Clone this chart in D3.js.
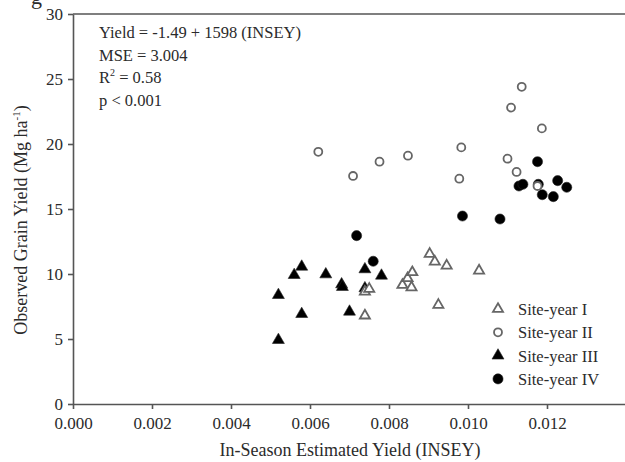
<!DOCTYPE html>
<html>
<head>
<meta charset="utf-8">
<script src="https://cdn.jsdelivr.net/npm/d3@7"></script>
<style>
  body { margin: 0; background: #fff; }
  svg text { font-family: "Liberation Serif", "Times New Roman", serif; fill: #2b2b2b; }
</style>
</head>
<body>
<div id="chart"></div>
<script>
const width = 625
const height = 462

// Site-year I (open triangles)
const site1X = [0.00739, 0.00750, 0.00739, 0.00834, 0.00847, 0.00859, 0.00857, 0.00903, 0.00916, 0.00946, 0.01028, 0.00925]
const site1Y = [8.64, 8.85, 6.80, 9.15, 9.67, 10.13, 8.97, 11.54, 10.95, 10.64, 10.26, 7.62]
// Site-year II (open circles)
const site2X = [0.00621, 0.00709, 0.00776, 0.00848, 0.00983, 0.00978, 0.01136, 0.01109, 0.01187, 0.01100, 0.01123, 0.01176]
const site2Y = [19.40, 17.54, 18.64, 19.10, 19.74, 17.33, 24.40, 22.80, 21.20, 18.87, 17.85, 16.77]
// Site-year III (filled triangles)
const site3X = [0.00579, 0.00560, 0.00640, 0.00680, 0.00682, 0.00739, 0.00781, 0.00739, 0.00520, 0.00579, 0.00700, 0.00520]
const site3Y = [10.56, 9.92, 9.97, 9.20, 9.00, 10.36, 9.87, 8.90, 8.38, 6.92, 7.10, 4.92]
// Site-year IV (filled circles)
const site4X = [0.00718, 0.00760, 0.00986, 0.01081, 0.01176, 0.01129, 0.01139, 0.01178, 0.01188, 0.01216, 0.01227, 0.01250]
const site4Y = [12.95, 10.98, 14.46, 14.23, 18.64, 16.77, 16.90, 16.90, 16.10, 15.95, 17.18, 16.67]

const xTicks = [0, 0.002, 0.004, 0.006, 0.008, 0.010, 0.012]
const yTicks = [0, 5, 10, 15, 20, 25, 30]
const legendLabels = ['Site-year I', 'Site-year II', 'Site-year III', 'Site-year IV']
const statLines = ['Yield = -1.49 + 1598 (INSEY)', 'MSE = 3.004', 'R2 = 0.58', 'p < 0.001']

const x = d3.scaleLinear().domain([0, 0.014]).range([73, 626])
const y = d3.scaleLinear().domain([0, 30]).range([404, 14])

const svg = d3.select('#chart').append('svg')
  .attr('width', width)
  .attr('height', height)

// fragment of the caption cut off above the figure
svg.append('text').attr('x', 31).attr('y', 4).style('font-size', '22px').text('g')

const axisColor = '#555'

const gx = svg.append('g')
  .attr('transform', `translate(0,${y(0)})`)
  .call(d3.axisBottom(x).tickValues(xTicks).tickFormat(d3.format('.3f')).tickSize(5).tickSizeOuter(0))
const gy = svg.append('g')
  .attr('transform', `translate(${x(0)},0)`)
  .call(d3.axisLeft(y).tickValues(yTicks).tickSize(5).tickSizeOuter(0))

for (const g of [gx, gy]) {
  g.selectAll('path, line').attr('stroke', axisColor).attr('stroke-width', 1.6)
  g.selectAll('text').style('font-size', '17px').attr('fill', '#2b2b2b')
}
gx.selectAll('text').attr('dy', null).attr('y', 25)
gy.selectAll('text').attr('x', -10).attr('dy', '0.35em')

// top frame line
svg.append('line')
  .attr('x1', x(0)).attr('x2', x(0.014))
  .attr('y1', y(30)).attr('y2', y(30))
  .attr('stroke', axisColor).attr('stroke-width', 1.6)

// axis titles
svg.append('text')
  .attr('x', 350).attr('y', 456)
  .attr('text-anchor', 'middle')
  .style('font-size', '18px')
  .text('In-Season Estimated Yield (INSEY)')

const yt = svg.append('text')
  .attr('transform', 'translate(27,220) rotate(-90)')
  .attr('text-anchor', 'middle')
  .style('font-size', '18px')
yt.append('tspan').text('Observed Grain Yield (Mg ha')
yt.append('tspan').attr('dy', -7).style('font-size', '11px').text('-1')
yt.append('tspan').attr('dy', 7).text(')')

// regression statistics
const stats = svg.append('g').style('font-size', '16.5px')
statLines.forEach((s, i) => {
  const t = stats.append('text').attr('x', 99).attr('y', 38 + i * 22.6)
  if (s.startsWith('R2')) {
    t.append('tspan').text('R')
    t.append('tspan').attr('dy', -7).style('font-size', '10px').text('2')
    t.append('tspan').attr('dy', 7).text(s.slice(2))
  } else {
    t.text(s)
  }
})

const triFill = d3.symbol().type(d3.symbolTriangle).size(62)
const triOpen = d3.symbol().type(d3.symbolTriangle).size(44)
const circFill = d3.symbol().type(d3.symbolCircle).size(80)
const circOpen = d3.symbol().type(d3.symbolCircle).size(50)

const styles = [
  { sym: triOpen, fill: '#fff', stroke: '#666', sw: 1.8 },
  { sym: circOpen, fill: '#fff', stroke: '#666', sw: 1.8 },
  { sym: triFill, fill: '#000', stroke: '#222', sw: 0.6 },
  { sym: circFill, fill: '#000', stroke: '#222', sw: 0.6 }
]

const series = [
  d3.zip(site1X, site1Y),
  d3.zip(site2X, site2Y),
  d3.zip(site3X, site3Y),
  d3.zip(site4X, site4Y)
]

// filled marks underneath, open marks on top
for (const i of [2, 3, 0, 1]) {
  const st = styles[i]
  svg.append('g').selectAll('path')
    .data(series[i])
    .enter()
    .append('path')
      .attr('transform', d => `translate(${x(d[0])},${y(d[1])})`)
      .attr('d', st.sym())
      .attr('fill', st.fill)
      .attr('stroke', st.stroke)
      .attr('stroke-width', st.sw)
}

// legend
const legend = svg.append('g')
legendLabels.forEach((label, i) => {
  const st = styles[i]
  const cy = 309 + i * 23.3
  legend.append('path')
    .attr('transform', `translate(498,${cy})`)
    .attr('d', st.sym())
    .attr('fill', st.fill)
    .attr('stroke', st.stroke)
    .attr('stroke-width', st.sw)
  legend.append('text')
    .attr('x', 518).attr('y', cy + 6)
    .style('font-size', '16.5px')
    .text(label)
})
</script>
</body>
</html>
